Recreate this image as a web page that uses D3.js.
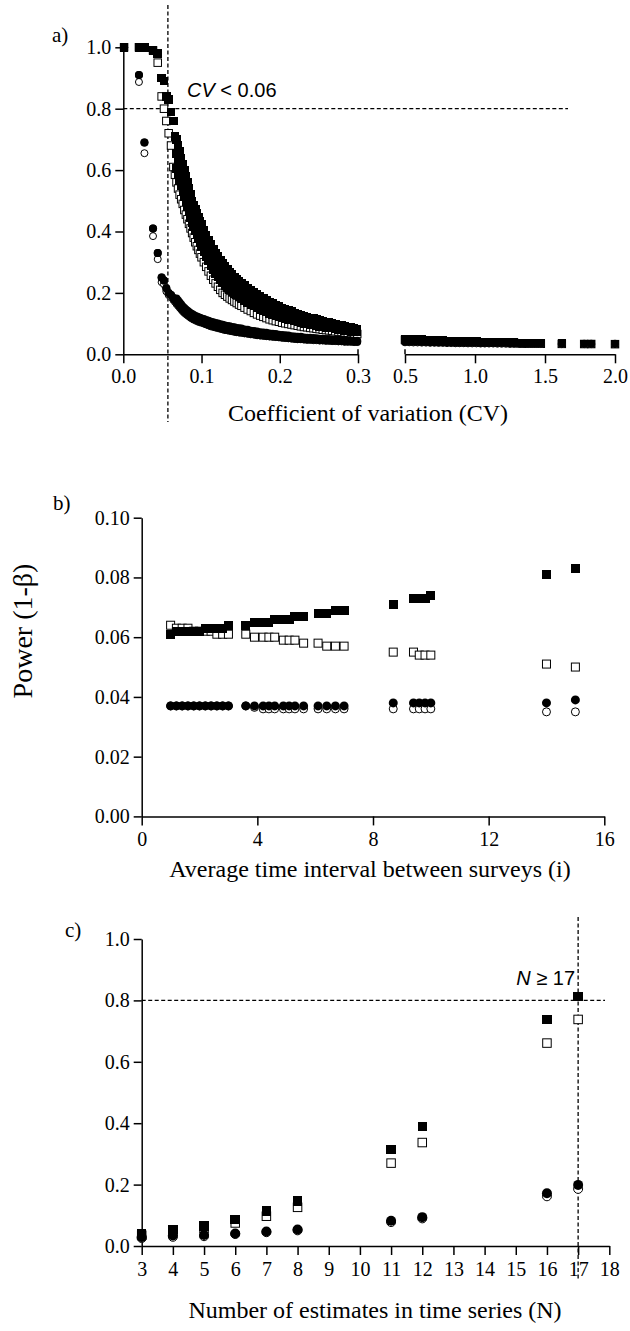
<!DOCTYPE html>
<html>
<head>
<meta charset="utf-8">
<script src="https://cdnjs.cloudflare.com/ajax/libs/d3/7.8.5/d3.min.js"></script>
<style>
body { margin: 0; background: #fff; }
.axis path, .axis line { stroke: #000; stroke-width: 1.5px; }
.axis text { font-family: "Liberation Serif", "Times New Roman", serif; font-size: 20px; fill: #000; }
.title { font-family: "Liberation Serif", "Times New Roman", serif; font-size: 24px; fill: #000; }
.plabel { font-family: "Liberation Serif", "Times New Roman", serif; font-size: 21px; fill: #000; }
.note { font-family: "Liberation Sans", Arial, sans-serif; font-size: 20px; fill: #000; }
.ref { stroke: #000; stroke-width: 1.3px; stroke-dasharray: 4,2.5; fill: none; }
</style>
</head>
<body>
<svg id="fig" width="630" height="1331"></svg>
<script>

//panel a data, CV 0 - 0.3 (shared CV grid for the series)
var cvLow = [0.001,0.020,0.027,0.038,0.044,0.049,0.052,0.055,0.058,0.061,0.064,0.066,
  0.068,0.070,0.072,0.074,0.076,0.078,0.080,0.082,0.084,0.086,0.088,0.090,0.092,0.094,0.096,0.098,0.100,
  0.103,0.106,0.109,0.112,0.115,0.118,0.121,0.124,0.127,0.130,0.133,0.136,0.139,0.142,0.145,0.148,0.151,
  0.155,0.159,0.163,0.167,0.171,0.175,0.179,0.183,0.187,0.191,0.195,0.199,0.203,0.207,0.211,0.215,0.219,
  0.223,0.227,0.231,0.235,0.239,0.243,0.247,0.251,0.255,0.259,0.263,0.267,0.271,0.275,0.279,0.283,0.287,
  0.291,0.295,0.299];

// filled squares: top row of the black band
var aFilledSq = [1.0,1.0,1.0,0.99,0.98,0.90,0.89,0.84,0.83,0.79,0.76,0.71,
  0.70,0.68,0.66,0.64,0.62,0.60,0.58,0.56,0.54,0.52,0.50,0.487,0.474,0.461,0.448,0.435,0.422,
  0.404,0.388,0.372,0.357,0.343,0.330,0.318,0.307,0.296,0.286,0.277,0.268,0.260,0.252,0.245,0.238,0.232,
  0.224,0.216,0.208,0.201,0.194,0.188,0.182,0.176,0.171,0.166,0.161,0.156,0.151,0.147,0.143,0.139,0.135,
  0.131,0.128,0.125,0.122,0.119,0.116,0.113,0.110,0.108,0.105,0.103,0.100,0.098,0.096,0.094,0.091,0.089,
  0.087,0.085,0.083];

// filled squares: middle rows of the black band
var aFilledSq2 = [1.0,1.0,1.0,0.99,0.98,0.90,0.89,0.84,0.83,0.79,0.76,0.71,
  0.654,0.634,0.614,0.595,0.577,0.557,0.539,0.520,0.502,0.484,0.465,0.452,0.438,0.425,0.412,0.400,0.387,
  0.370,0.354,0.338,0.324,0.310,0.297,0.286,0.275,0.264,0.256,0.248,0.240,0.233,0.226,0.219,0.213,0.208,
  0.200,0.193,0.186,0.179,0.173,0.168,0.162,0.157,0.152,0.148,0.144,0.140,0.135,0.132,0.128,0.125,0.122,
  0.118,0.116,0.113,0.111,0.108,0.106,0.103,0.101,0.099,0.096,0.095,0.092,0.090,0.089,0.087,0.084,0.083,
  0.081,0.079,0.077];

var aFilledSq3 = [1.0,1.0,1.0,0.99,0.98,0.90,0.89,0.84,0.83,0.79,0.76,0.71,
  0.606,0.586,0.566,0.550,0.533,0.513,0.496,0.480,0.463,0.446,0.430,0.415,0.401,0.388,0.376,0.363,0.351,
  0.334,0.319,0.304,0.289,0.276,0.264,0.252,0.242,0.232,0.224,0.217,0.210,0.204,0.198,0.193,0.187,0.182,
  0.176,0.169,0.163,0.157,0.151,0.146,0.142,0.137,0.133,0.129,0.125,0.123,0.119,0.116,0.114,0.111,0.108,
  0.106,0.103,0.101,0.099,0.097,0.095,0.093,0.091,0.089,0.088,0.086,0.085,0.083,0.081,0.080,0.078,0.076,
  0.075,0.073,0.072];

var aOpenSq = [1.0,1.0,1.0,0.99,0.95,0.84,0.80,0.76,0.72,0.68,0.61,0.585,
  0.56,0.54,0.52,0.505,0.49,0.47,0.455,0.44,0.425,0.41,0.395,0.38,0.365,0.352,0.34,0.328,0.316,
  0.30,0.285,0.27,0.256,0.243,0.231,0.22,0.21,0.20,0.194,0.188,0.182,0.177,0.172,0.167,0.162,0.158,
  0.152,0.146,0.141,0.135,0.130,0.126,0.122,0.118,0.114,0.111,0.108,0.106,0.103,0.101,0.099,0.097,0.095,
  0.093,0.091,0.089,0.088,0.086,0.085,0.083,0.082,0.080,0.079,0.078,0.077,0.075,0.074,0.073,0.071,0.070,
  0.069,0.067,0.066];

// filled circles: lower and upper rows of the circle band
var aFilledCi = [1.0,0.91,0.69,0.41,0.33,0.25,0.24,0.215,0.20,0.193,0.183,0.177,
  0.170,0.163,0.157,0.150,0.144,0.139,0.134,0.130,0.126,0.122,0.119,0.116,0.113,0.111,0.109,0.107,0.105,
  0.102,0.099,0.096,0.093,0.091,0.089,0.087,0.085,0.083,0.081,0.079,0.078,0.076,0.075,0.073,0.072,0.071,
  0.069,0.068,0.066,0.065,0.063,0.062,0.061,0.060,0.059,0.058,0.057,0.056,0.055,0.054,0.053,0.052,0.051,
  0.050,0.050,0.049,0.048,0.048,0.047,0.047,0.046,0.046,0.045,0.045,0.044,0.044,0.043,0.043,0.042,0.042,
  0.042,0.041,0.041];

var aFilledCi2 = [1.0,0.91,0.69,0.41,0.33,0.25,0.24,0.215,0.20,0.193,0.183,0.177,
  0.182,0.175,0.169,0.162,0.156,0.151,0.146,0.142,0.138,0.134,0.131,0.128,0.125,0.123,0.121,0.119,0.117,
  0.115,0.112,0.109,0.106,0.104,0.102,0.100,0.098,0.096,0.094,0.092,0.091,0.089,0.088,0.086,0.085,0.084,
  0.081,0.080,0.077,0.076,0.074,0.072,0.071,0.070,0.068,0.067,0.066,0.064,0.063,0.062,0.061,0.059,0.058,
  0.057,0.057,0.055,0.054,0.054,0.053,0.052,0.051,0.051,0.050,0.050,0.048,0.048,0.047,0.047,0.046,0.045,
  0.045,0.044,0.044];

var aOpenCi = [1.0,0.887,0.655,0.385,0.31,0.235,0.228,0.205,0.193,0.186,0.177,0.171,
  0.164,0.158,0.152,0.146,0.140,0.135,0.131,0.127,0.123,0.119,0.116,0.113,0.111,0.108,0.106,0.104,0.103,
  0.100,0.097,0.094,0.091,0.089,0.087,0.085,0.083,0.081,0.079,0.078,0.076,0.075,0.073,0.072,0.071,0.070,
  0.068,0.067,0.065,0.064,0.062,0.061,0.060,0.059,0.058,0.057,0.056,0.055,0.054,0.053,0.052,0.051,0.050,
  0.049,0.049,0.048,0.047,0.047,0.046,0.046,0.045,0.045,0.044,0.044,0.043,0.043,0.042,0.042,0.041,0.041,
  0.041,0.040,0.040];

//panel a data, CV 0.5 - 2.0
var cvHigh = [0.50,0.53,0.56,0.59,0.62,0.65,0.68,0.71,0.74,0.77,0.80,0.83,0.86,0.89,0.92,0.95,0.98,
  1.01,1.04,1.07,1.10,1.13,1.16,1.19,1.22,1.25,1.28,1.32,1.35,1.38,1.41,1.44,1.47,1.62,1.78,1.83,2.00];

var aFilledSqHigh = [0.050,0.0495,0.049,0.048,0.0475,0.047,0.046,0.0455,0.045,0.0445,0.044,0.0435,0.043,
  0.0425,0.042,0.0415,0.041,0.041,0.0405,0.040,0.040,0.0395,0.039,0.039,0.0385,0.038,0.038,
  0.036,0.036,0.0355,0.0355,0.035,0.035,0.0345,0.034,0.034,0.0335];
var aOpenSqHigh = [0.047,0.0465,0.046,0.0455,0.045,0.0445,0.044,0.0435,0.043,0.0425,0.042,0.0415,0.041,
  0.041,0.0405,0.040,0.040,0.0395,0.039,0.039,0.0385,0.038,0.038,0.0375,0.0375,0.037,0.037,
  0.0355,0.0355,0.035,0.035,0.0345,0.0345,0.034,0.0335,0.0335,0.033];
var aFilledCiHigh = [0.041,0.041,0.0405,0.0405,0.040,0.040,0.0395,0.0395,0.039,0.039,0.0385,0.0385,0.038,
  0.038,0.038,0.0375,0.0375,0.0375,0.037,0.037,0.037,0.037,0.0365,0.0365,0.0365,0.036,0.036,
  0.0355,0.0355,0.035,0.035,0.035,0.035,0.0345,0.034,0.034,0.034];
var aOpenCiHigh = [0.039,0.039,0.0385,0.0385,0.038,0.038,0.0375,0.0375,0.037,0.037,0.0365,0.0365,0.036,
  0.036,0.036,0.0355,0.0355,0.0355,0.035,0.035,0.035,0.035,0.0345,0.0345,0.0345,0.034,0.034,
  0.034,0.034,0.0335,0.0335,0.0335,0.0335,0.033,0.033,0.033,0.033];

var aTicksY = [0, 0.2, 0.4, 0.6, 0.8, 1.0];
var aTicksX1 = [0, 0.1, 0.2, 0.3];
var aTicksX2 = [0.5, 1.0, 1.5, 2.0];
var cvCut = 0.057, powerCut = 0.8;

//panel b data, average interval between surveys
var interval = [1.0,1.2,1.4,1.6,1.8,2.0,2.2,2.4,2.6,2.8,3.0,
  3.6,3.9,4.2,4.4,4.6,4.9,5.1,5.3,5.6, 6.1,6.4,6.7,7.0, 8.7, 9.4,9.6,9.8,10.0, 14.0,15.0];
var bFilledSq = [0.061,0.062,0.062,0.062,0.062,0.062,0.063,0.063,0.063,0.063,0.064,
  0.064,0.065,0.065,0.065,0.066,0.066,0.066,0.067,0.067, 0.068,0.068,0.069,0.069, 0.071,
  0.073,0.073,0.073,0.074, 0.081,0.083];
var bOpenSq = [0.064,0.063,0.063,0.063,0.062,0.062,0.062,0.062,0.061,0.061,0.061,
  0.061,0.060,0.060,0.060,0.060,0.059,0.059,0.059,0.058, 0.058,0.057,0.057,0.057, 0.055,
  0.055,0.054,0.054,0.054, 0.051,0.050];
var bFilledCi = [0.037,0.037,0.037,0.037,0.037,0.037,0.037,0.037,0.037,0.037,0.037,
  0.037,0.037,0.037,0.037,0.037,0.037,0.037,0.037,0.037, 0.037,0.037,0.037,0.037, 0.038,
  0.038,0.038,0.038,0.038, 0.038,0.039];
var bOpenCi = [0.037,0.037,0.037,0.037,0.037,0.037,0.037,0.037,0.037,0.037,0.037,
  0.037,0.0365,0.036,0.036,0.036,0.036,0.036,0.036,0.036, 0.036,0.036,0.036,0.036, 0.036,
  0.036,0.036,0.036,0.036, 0.035,0.035];
var bTicksY = [0, 0.02, 0.04, 0.06, 0.08, 0.10];
var bTicksX = [0, 4, 8, 12, 16];

//panel c data, number of estimates
var nEst = [3, 4, 5, 6, 7, 8, 11, 12, 16, 17];
var cFilledSq = [0.041, 0.054, 0.065, 0.086, 0.114, 0.147, 0.314, 0.390, 0.737, 0.813];
var cOpenSq = [0.035, 0.047, 0.057, 0.075, 0.097, 0.126, 0.270, 0.337, 0.661, 0.738];
var cFilledCi = [0.029, 0.034, 0.036, 0.041, 0.047, 0.054, 0.082, 0.094, 0.172, 0.199];
var cOpenCi = [0.026, 0.030, 0.032, 0.039, 0.045, 0.051, 0.078, 0.090, 0.162, 0.186];
var cTicksY = [0, 0.2, 0.4, 0.6, 0.8, 1.0];
var cTicksX = d3.range(3, 19);
var nCut = 17;


var svg = d3.select("#fig");
svg.append("rect").attr("width", 630).attr("height", 1331).attr("fill", "#fff");

// draw one series of markers
function markers(g, xs, ys, x, y, shape, filled, size) {
    var pts = d3.range(Math.min(xs.length, ys.length)).map(function(i) { return [xs[i], ys[i]]; });
    var s = filled ? size : size - 1;
    if (shape == "square") {
        g.selectAll(null).data(pts).enter().append("rect")
        .attr("x", function(d) { return x(d[0]) - s / 2; })
        .attr("y", function(d) { return y(d[1]) - s / 2; })
        .attr("width", s)
        .attr("height", s)
        .attr("fill", filled ? "#000" : "#fff")
        .attr("stroke", filled ? "none" : "#000")
        .attr("stroke-width", 1)
        .attr("shape-rendering", filled ? "crispEdges" : null);
    } else {
        g.selectAll(null).data(pts).enter().append("circle")
        .attr("cx", function(d) { return x(d[0]); })
        .attr("cy", function(d) { return y(d[1]); })
        .attr("r", s / 2)
        .attr("fill", filled ? "#000" : "#fff")
        .attr("stroke", filled ? "none" : "#000")
        .attr("stroke-width", 1);
    }
}

function refLine(x1, y1, x2, y2) {
    svg.append("line").attr("class", "ref")
    .attr("x1", x1).attr("y1", y1).attr("x2", x2).attr("y2", y2);
}

//---------------- panel a
var ya = d3.scaleLinear().domain([0, 1]).range([354.3, 47.3]);
var xa1 = d3.scaleLinear().domain([0, 0.3]).range([123.3, 358]);
var xa2 = d3.scaleLinear().domain([0.5, 2.0]).range([405, 615]);

svg.append("g").attr("class", "axis")
.attr("transform", "translate(123.3,0)")
.call(d3.axisLeft(ya).tickValues(aTicksY).tickFormat(d3.format(".1f")).tickSize(8).tickPadding(4).tickSizeOuter(0));

svg.append("g").attr("class", "axis")
.attr("transform", "translate(0,354.3)")
.call(d3.axisBottom(xa1).tickValues(aTicksX1).tickFormat(d3.format(".1f")).tickSize(9).tickPadding(6).tickSizeOuter(0));

svg.append("g").attr("class", "axis")
.attr("transform", "translate(0,354.3)")
.call(d3.axisBottom(xa2).tickValues(aTicksX2).tickFormat(d3.format(".1f")).tickSize(9).tickPadding(6).tickSizeOuter(0));

// break marks at the axis gap
[xa1(0.3), xa2(0.5)].forEach(function(px) {
    svg.append("line").attr("x1", px).attr("x2", px).attr("y1", 354.3 - 5).attr("y2", 354.3)
    .attr("stroke", "#000").attr("stroke-width", 1.5);
});

refLine(xa1(cvCut), 5, xa1(cvCut), 422);
refLine(xa1(0), ya(powerCut), 568, ya(powerCut));

var ga = svg.append("g");
markers(ga, cvLow, aOpenSq, xa1, ya, "square", false, 8.5);
markers(ga, cvLow, aFilledSq3, xa1, ya, "square", true, 8.5);
markers(ga, cvLow, aFilledSq2, xa1, ya, "square", true, 8.5);
markers(ga, cvLow, aFilledSq, xa1, ya, "square", true, 8.5);
markers(ga, cvLow, aOpenCi, xa1, ya, "circle", false, 8);
markers(ga, cvLow, aFilledCi2, xa1, ya, "circle", true, 8);
markers(ga, cvLow, aFilledCi, xa1, ya, "circle", true, 8);
markers(ga, cvHigh, aOpenSqHigh, xa2, ya, "square", false, 8.5);
markers(ga, cvHigh, aFilledSqHigh, xa2, ya, "square", true, 8.5);
markers(ga, cvHigh, aOpenCiHigh, xa2, ya, "circle", false, 8);
markers(ga, cvHigh, aFilledCiHigh, xa2, ya, "circle", true, 8);

var noteA = svg.append("text").attr("class", "note").attr("x", 187).attr("y", 97);
noteA.append("tspan").style("font-style", "italic").text("CV");
noteA.append("tspan").text(" < 0.06");

svg.append("text").attr("class", "plabel").attr("x", 52).attr("y", 42).text("a)");
svg.append("text").attr("class", "title").attr("x", 368).attr("y", 420.5)
.attr("text-anchor", "middle").text("Coefficient of variation (CV)");

//---------------- panel b
var yb = d3.scaleLinear().domain([0, 0.1]).range([816.4, 517.7]);
var xb = d3.scaleLinear().domain([0, 16]).range([141.7, 604.3]);

svg.append("g").attr("class", "axis")
.attr("transform", "translate(141.7,0)")
.call(d3.axisLeft(yb).tickValues(bTicksY).tickFormat(d3.format(".2f")).tickSize(8).tickPadding(4).tickSizeOuter(0));

svg.append("g").attr("class", "axis")
.attr("transform", "translate(0,816.4)")
.call(d3.axisBottom(xb).tickValues(bTicksX).tickFormat(d3.format("d")).tickSize(9).tickPadding(6).tickSizeOuter(0));

var gb = svg.append("g");
markers(gb, interval, bOpenSq, xb, yb, "square", false, 9);
markers(gb, interval, bFilledSq, xb, yb, "square", true, 9);
markers(gb, interval, bOpenCi, xb, yb, "circle", false, 9);
markers(gb, interval, bFilledCi, xb, yb, "circle", true, 9);

svg.append("text").attr("class", "plabel").attr("x", 53).attr("y", 510).text("b)");
svg.append("text").attr("class", "title").attr("x", 370).attr("y", 876.5)
.attr("text-anchor", "middle").text("Average time interval between surveys (i)");

//---------------- panel c
var yc = d3.scaleLinear().domain([0, 1]).range([1246, 939]);
var xc = d3.scaleLinear().domain([3, 18]).range([141.7, 609.3]);

svg.append("g").attr("class", "axis")
.attr("transform", "translate(141.7,0)")
.call(d3.axisLeft(yc).tickValues(cTicksY).tickFormat(d3.format(".1f")).tickSize(8).tickPadding(4).tickSizeOuter(0));

svg.append("g").attr("class", "axis")
.attr("transform", "translate(0,1246)")
.call(d3.axisBottom(xc).tickValues(cTicksX).tickFormat(d3.format("d")).tickSize(9).tickPadding(7).tickSizeOuter(0));

refLine(xc(3), yc(powerCut), 605, yc(powerCut));
refLine(xc(nCut), 917, xc(nCut), 1280);

var gc = svg.append("g");
markers(gc, nEst, cOpenSq, xc, yc, "square", false, 9.5);
markers(gc, nEst, cFilledSq, xc, yc, "square", true, 9.5);
markers(gc, nEst, cOpenCi, xc, yc, "circle", false, 10);
markers(gc, nEst, cFilledCi, xc, yc, "circle", true, 10);

var noteC = svg.append("text").attr("class", "note").attr("x", xc(nCut) - 3).attr("y", 985)
.attr("text-anchor", "end");
noteC.append("tspan").style("font-style", "italic").text("N");
noteC.append("tspan").text(" \u2265 17");

svg.append("text").attr("class", "plabel").attr("x", 65).attr("y", 937).text("c)");
svg.append("text").attr("class", "title").attr("x", 375).attr("y", 1318)
.attr("text-anchor", "middle").text("Number of estimates in time series (N)");

//shared y title
svg.append("text").attr("class", "title")
.attr("transform", "translate(32,631) rotate(-90)")
.attr("text-anchor", "middle")
.style("font-size", "28px")
.text("Power (1-\u03b2)");

</script>
</body>
</html>
